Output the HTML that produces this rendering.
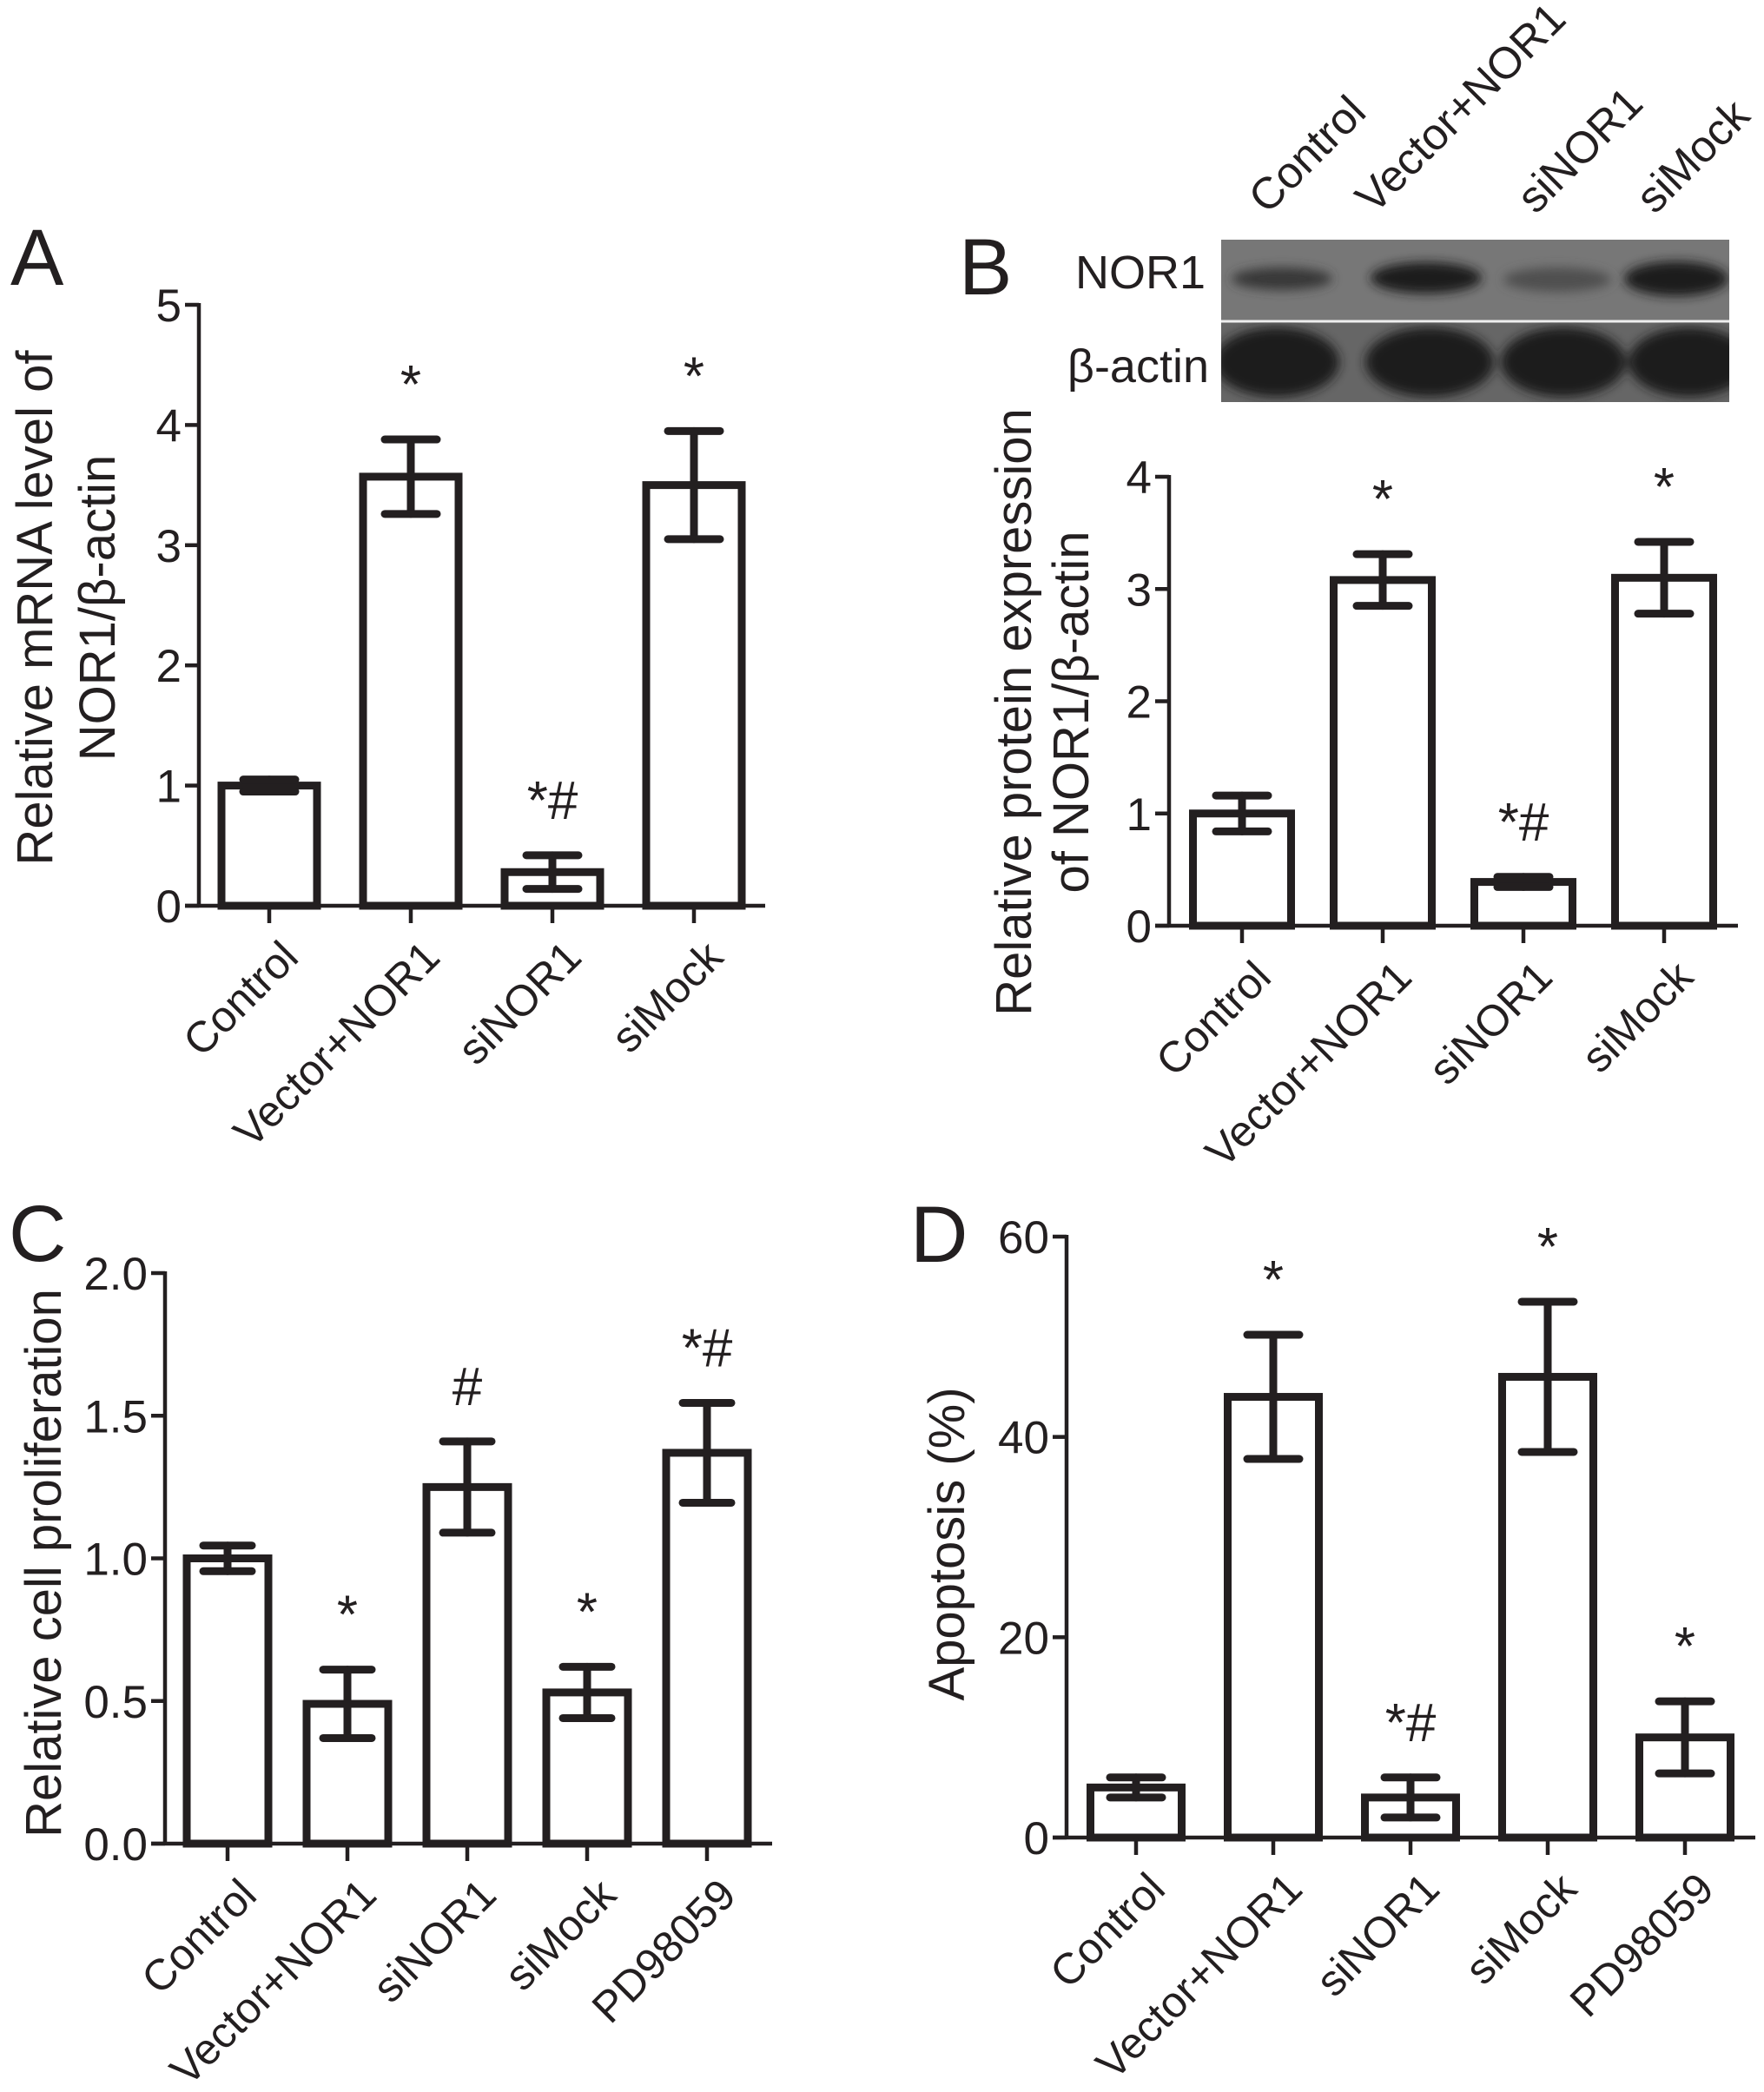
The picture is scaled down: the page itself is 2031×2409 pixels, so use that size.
<!DOCTYPE html>
<html><head><meta charset="utf-8"><style>
html,body{margin:0;padding:0;background:#fff;}
svg{display:block;}
text{font-family:"Liberation Sans",Arial,sans-serif;fill:#231f20;}
</style></head><body>
<svg id="fig" width="2031" height="2409" viewBox="0 0 2031 2409" xmlns="http://www.w3.org/2000/svg">
<defs>
<filter id="blur" x="-20%" y="-50%" width="140%" height="200%"><feGaussianBlur stdDeviation="6"/></filter>
<clipPath id="clipTop"><rect x="1406" y="276" width="585" height="93"/></clipPath>
<clipPath id="clipBot"><rect x="1406" y="371" width="585" height="92"/></clipPath>
</defs>
<g id="blot">
  <rect x="1406" y="276" width="585" height="93" fill="#777"/>
  <rect x="1406" y="371" width="585" height="92" fill="#666"/>
  <line x1="1406" x2="1991" y1="370" y2="370" stroke="#eee" stroke-width="3"/>
  <g filter="url(#blur)" clip-path="url(#clipTop)">
    <ellipse cx="1476" cy="321" rx="58" ry="13" fill="#383838"/>
    <ellipse cx="1642" cy="320" rx="64" ry="18" fill="#1f1f1f"/>
    <ellipse cx="1793" cy="322" rx="62" ry="14" fill="#505050"/>
    <ellipse cx="1930" cy="321" rx="60" ry="20" fill="#1f1f1f"/>
  </g>
  <g clip-path="url(#clipBot)"><g filter="url(#blur)">
    <ellipse cx="1470" cy="417" rx="72" ry="40" fill="#1e1e1e"/>
    <ellipse cx="1646" cy="417" rx="74" ry="40" fill="#1e1e1e"/>
    <ellipse cx="1800" cy="417" rx="72" ry="40" fill="#1e1e1e"/>
    <ellipse cx="1945" cy="417" rx="70" ry="40" fill="#1e1e1e"/>
  </g></g>
  <text x="1388" y="332" font-size="54" text-anchor="end">NOR1</text>
  <text x="1392" y="440" font-size="54" text-anchor="end">β-actin</text>
  <text transform="translate(1459,248) rotate(-45)" font-size="51">Control</text>
  <text transform="translate(1582,248) rotate(-45)" font-size="51">Vector+NOR1</text>
  <text transform="translate(1768,248) rotate(-45)" font-size="51">siNOR1</text>
  <text transform="translate(1905,248) rotate(-45)" font-size="51">siMock</text>
</g>
</svg>
<script>
// Panel A
const catsA = ["Control","Vector+NOR1","siNOR1","siMock"];
const meanA = [1.0, 3.57, 0.28, 3.5];
const errA  = [0.05, 0.31, 0.14, 0.45];
const sigA  = ["", "*", "*#", "*"];
const ticksA = ["0","1","2","3","4","5"];
// Panel B
const catsB = ["Control","Vector+NOR1","siNOR1","siMock"];
const meanB = [1.0, 3.08, 0.39, 3.1];
const errB  = [0.16, 0.23, 0.045, 0.32];
const sigB  = ["", "*", "*#", "*"];
const ticksB = ["0","1","2","3","4"];
// Panel C
const catsC = ["Control","Vector+NOR1","siNOR1","siMock","PD98059"];
const meanC = [1.0, 0.49, 1.25, 0.53, 1.37];
const errC  = [0.045, 0.12, 0.16, 0.09, 0.175];
const sigC  = ["", "*", "#", "*", "*#"];
const ticksC = ["0.0","0.5","1.0","1.5","2.0"];
// Panel D
const catsD = ["Control","Vector+NOR1","siNOR1","siMock","PD98059"];
const meanD = [5, 44, 4, 46, 10];
const errD  = [1, 6.2, 2, 7.5, 3.6];
const sigD  = ["", "*", "*#", "*", "*"];
const ticksD = ["0","20","40","60"];

const NS = "http://www.w3.org/2000/svg";
const svg = document.getElementById("fig");
function mk(tag, attrs, parent){
  const e = document.createElementNS(NS, tag);
  for (const k in attrs) e.setAttribute(k, attrs[k]);
  (parent||svg).appendChild(e);
  return e;
}
function panel(cfg, cats, mean, err, sig, ticks){
  const g = mk("g", {});
  
  
  const y = v => cfg.y0 - (v - cfg.min) / (cfg.max - cfg.min) * (cfg.y0 - cfg.yTop);
  const xc = i => cfg.c0 + i * cfg.step;
  const L = mk("text", {x: cfg.lx, y: cfg.ly, "font-size": 92}, g);
  L.textContent = cfg.id.toUpperCase();
  
  
  const ya = mk("line", {x1: cfg.ax, x2: cfg.ax, y1: cfg.yTop - 2, y2: cfg.y0 + 2, stroke: "#231f20", "stroke-width": 4.5}, g);
  
  
  ticks.forEach(t => {
    const v = parseFloat(t), yy = y(v);
    const tl = mk("line", {x1: cfg.ax - 16, x2: cfg.ax, y1: yy, y2: yy, stroke: "#231f20", "stroke-width": 4.5}, g);
    
    
    const tt = mk("text", {x: cfg.ax - 20, y: yy + 19, "font-size": 53, "text-anchor": "end"}, g);
    tt.textContent = t;
    
    
  });
  const xa = mk("line", {x1: cfg.ax - 16, x2: cfg.xEnd, y1: cfg.y0, y2: cfg.y0, stroke: "#231f20", "stroke-width": 4.5}, g);
  
  
  const tg = mk("text", {transform: `translate(${cfg.tx},${cfg.ty}) rotate(-90)`, "font-size": 58, "text-anchor": "middle"}, g);
  
  
  cfg.title.forEach((line, k) => {
    const ts = mk("tspan", {x: 0, y: k * cfg.tl}, tg);
    ts.textContent = line;
  });
  cats.forEach((c, i) => {
    const cx = xc(i), w = cfg.bw;
    const bar = mk("rect", {x: cx - w/2, y: y(mean[i]), width: w, height: cfg.y0 - y(mean[i]), fill: "#fff", stroke: "#231f20", "stroke-width": 9}, g);
    
    
    const eg = mk("g", {stroke: "#231f20", "stroke-width": 9, "stroke-linecap": "round"}, g);
    
    
    const hi = y(mean[i] + err[i]), lo = y(mean[i] - err[i]), cw = cfg.cw / 2;
    mk("line", {x1: cx, x2: cx, y1: hi, y2: lo}, eg);
    mk("line", {x1: cx - cw, x2: cx + cw, y1: hi, y2: hi}, eg);
    mk("line", {x1: cx - cw, x2: cx + cw, y1: lo, y2: lo}, eg);
    const tk = mk("line", {x1: cx, x2: cx, y1: cfg.y0, y2: cfg.y0 + 20, stroke: "#231f20", "stroke-width": 4.5}, g);
    
    
    const lb = mk("text", {transform: `translate(${cx + 36},${cfg.y0 + 62}) rotate(-45)`, "font-size": 50, "text-anchor": "end"}, g);
    lb.textContent = c;
    
    
    if (sig[i]) {
      const s = mk("text", {x: cx, y: hi - cfg.sg, "font-size": 62, "text-anchor": "middle"}, g);
      s.textContent = sig[i];
      
      
    }
  });
}
panel({id:"a", ax:229, y0:1043, yTop:351, min:0, max:5, xEnd:881, c0:310, step:163, bw:110, cw:60,
  lx:12, ly:328, tx:60, ty:700, tl:72, sg:42,
  title:["Relative mRNA level of","NOR1/β-actin"]}, catsA, meanA, errA, sigA, ticksA);
panel({id:"b", ax:1346, y0:1066, yTop:549, min:0, max:4, xEnd:2001, c0:1430, step:162, bw:113, cw:60,
  lx:1104, ly:339, tx:1187, ty:820, tl:66, sg:42,
  title:["Relative protein expression","of NOR1/β-actin"]}, catsB, meanB, errB, sigB, ticksB);
panel({id:"c", ax:190, y0:2123, yTop:1466, min:0, max:2, xEnd:889, c0:262, step:138, bw:94, cw:56,
  lx:10, ly:1452, tx:70, ty:1800, tl:68, sg:42,
  title:["Relative cell proliferation"]}, catsC, meanC, errC, sigC, ticksC);
panel({id:"d", ax:1228, y0:2116, yTop:1424, min:0, max:60, xEnd:2021, c0:1308, step:158, bw:105, cw:60,
  lx:1048, ly:1453, tx:1110, ty:1778, tl:68, sg:42,
  title:["Apoptosis (%)"]}, catsD, meanD, errD, sigD, ticksD);
</script>
</body></html>
